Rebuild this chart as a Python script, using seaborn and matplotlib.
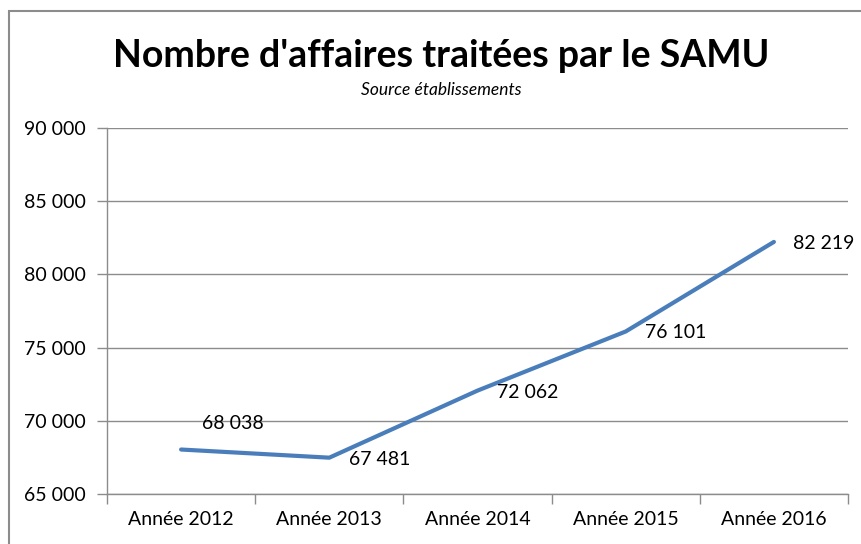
import numpy as np
import pandas as pd
import seaborn as sns
import matplotlib.pyplot as plt
from matplotlib.patches import Rectangle
from matplotlib.ticker import FixedLocator, FuncFormatter

# Données du graphique
annees = ["Année 2012", "Année 2013", "Année 2014", "Année 2015", "Année 2016"]
affaires = [68038, 67481, 72062, 76101, 82219]
y_ticks = [65000, 70000, 75000, 80000, 85000, 90000]

df = pd.DataFrame({"annee": annees, "affaires": affaires})

sns.set_style("white")
plt.rcParams['font.family'] = ['Lato', 'DejaVu Sans']

fig = plt.figure(figsize=(8.62, 5.44), dpi=100)
ax = fig.add_axes([107 / 862, 1 - 494 / 544, 741 / 862, 366 / 544])

sns.lineplot(data=df, x="annee", y="affaires", color="#4A7EBB", linewidth=3,
             sort=False, ax=ax, zorder=3)

ax.set_xlim(-0.5, len(annees) - 0.5)
ax.set_ylim(y_ticks[0], y_ticks[-1])
ax.set_yticks(y_ticks)
ax.yaxis.set_major_formatter(FuncFormatter(lambda v, p: f"{int(v):,}".replace(",", " ")))
ax.grid(axis="y", color="#8C8C8C", linewidth=1)
ax.set_xlabel("")
ax.set_ylabel("")

# graduations aux limites des catégories
ax.xaxis.set_minor_locator(FixedLocator(np.arange(-0.5, len(annees), 1.0)))
ax.tick_params(axis="x", which="major", length=0, pad=12, labelsize=14, colors="#000000")
ax.tick_params(axis="x", which="minor", length=7, width=1, color="#8C8C8C", direction="out")
ax.tick_params(axis="y", length=7, width=1, color="#8C8C8C", direction="out",
               labelsize=14, pad=8, labelcolor="#000000")
ax.tick_params(axis="x", which="minor", bottom=True)
ax.tick_params(axis="y", left=True)

for side in ["top", "right"]:
    ax.spines[side].set_visible(False)
for side in ["left", "bottom"]:
    ax.spines[side].set_color("#8C8C8C")
    ax.spines[side].set_linewidth(1)

# étiquettes de données
for i, v in enumerate(affaires):
    lab = f"{v:,}".replace(",", " ")
    if i == 0:
        ax.annotate(lab, (i, v), xytext=(15, 19), textcoords="offset points",
                    ha="left", va="center", fontsize=14, color="black")
    else:
        ax.annotate(lab, (i, v), xytext=(14, -1), textcoords="offset points",
                    ha="left", va="center", fontsize=14, color="black")

fig.text(0.512, 1 - 56 / 544, "Nombre d'affaires traitées par le SAMU",
         ha="center", va="center", fontsize=27, fontweight="bold", color="black")
fig.text(0.512, 1 - 90 / 544, "Source établissements",
         ha="center", va="center", fontsize=12.5, style="italic", color="black")

# cadre du graphique
fig.patches.append(Rectangle((9 / 862, -0.1), 1.2, 1 - 11 / 544 + 0.1,
                             transform=fig.transFigure, fill=False,
                             edgecolor="#8C8C8C", linewidth=1.5))

fig.savefig("out.png", dpi=100)
